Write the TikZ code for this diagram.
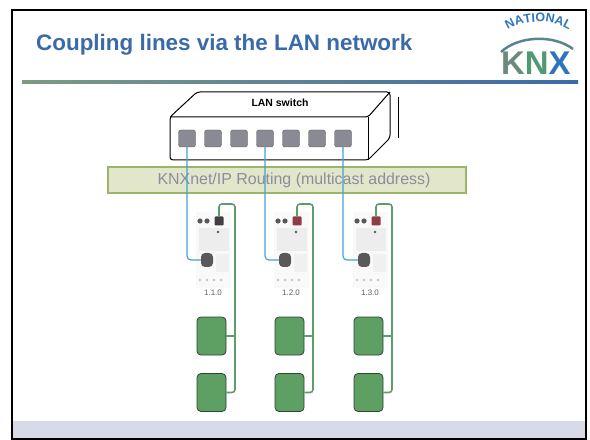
\documentclass[tikz,border=0pt]{standalone}
\usepackage{fontspec}
\setmainfont{Liberation Sans}
\usetikzlibrary{positioning,calc,decorations.text}

\definecolor{knxblue}{HTML}{3B6AA8}
\definecolor{knxlogoblue}{HTML}{2F74BE}
\definecolor{knxgreen}{HTML}{4F9A72}
\definecolor{knxgray}{HTML}{6E8A7C}
\definecolor{rulegreen}{HTML}{7C9A84}
\definecolor{portgray}{HTML}{8A8A95}
\definecolor{barfill}{HTML}{E2E7CC}
\definecolor{barline}{HTML}{9DB46C}
\definecolor{bartext}{HTML}{8C8C9C}
\definecolor{lanwire}{HTML}{3FA6CF}
\definecolor{buswire}{HTML}{5E9C6C}
\definecolor{tpfill}{HTML}{5E9F64}
\definecolor{tpline}{HTML}{2E4434}
\definecolor{ledred}{HTML}{8E3C46}
\definecolor{footer}{HTML}{D8DAE7}

\begin{document}
\begin{tikzpicture}
[x=1bp,y=-1bp,every node/.style={inner sep=0pt},
 port/.style={rectangle,rounded corners=2.5bp,draw=gray!70!black,fill=portgray,minimum size=17bp},
 tpdev/.style={rectangle,rounded corners=4bp,draw=tpline,thick,fill=tpfill,minimum width=29bp,minimum height=38bp},
 lanline/.style={lanwire,line width=1.2bp,rounded corners=4bp},
 busline/.style={buswire,line width=1.6bp,rounded corners=3bp}]
\useasboundingbox (0,0) rectangle (590,440);

% slide frame, footer and title
\fill[footer] (13,421) rectangle (585,438);
\draw[line width=1.8bp] (12,10) rectangle (586,439);
\node[anchor=base west,text=knxblue,font=\bfseries\fontsize{22.5}{26}\selectfont] (title) at (36,51) {Coupling lines via the LAN network};
\shade[left color=rulegreen,right color=knxblue] (22,80.5) rectangle (578,84);

% logo
\path[decorate,decoration={text along path,text align=center,
  text={|\bfseries\fontsize{12.5}{13}\selectfont\color{knxlogoblue}|NATIONAL}}]
  (500,36) .. controls (520,17) and (557,17) .. (577,36);
\draw[line width=2.5bp,knxgray!70!knxlogoblue] (501,52) .. controls (518,36) and (553,34) .. (573,49);
\node[anchor=base west,font=\bfseries\fontsize{33}{36}\selectfont] (logo) at (501,75)
  {\textcolor{knxgray}{K}\textcolor{knxgreen}{N}\textcolor{knxlogoblue}{X}};

% LAN switch
\filldraw[fill=white,line width=1bp,rounded corners=3bp] (170,117) -- (197,92) -- (390,92) -- (390,138) -- (368,160) -- (170,160) -- cycle;
\draw[line width=1bp,rounded corners=2bp] (170,117) -- (368,117) -- (390,92);
\draw[line width=1bp] (368,117) -- (368,160);
\draw[line width=0.8bp] (398,97) -- (398,138);
\node[font=\bfseries\fontsize{10.5}{12}\selectfont] (lansw) at (280,103) {LAN switch};
\foreach \i in {1,...,7}
  \node[port] (p\i) at ({187+26*(\i-1)},138.5) {};

% routing bar
\node[rectangle,draw=barline,line width=1.6bp,fill=barfill,minimum width=358bp,minimum height=26bp,
  text=bartext,font=\fontsize{16}{18}\selectfont] (routing) at (287,180) {\hspace*{14bp}KNXnet/IP Routing (multicast address)};

% IP routers with their lines
\foreach \i/\dx/\p/\led in {1/0/1/darkgray,2/78/4/ledred,3/157/7/ledred}{
  \begin{scope}[xshift=\dx bp]
    \fill[gray!5] (196,212) rectangle (231,288);
    \fill[gray!14] (199,228) rectangle (229,251);
    \fill[gray!12] (216,254) rectangle (229,272);
    \fill[gray!70!black] (200,221) circle (2.6) (207,221) circle (2.6) (218,232) circle (1.4);
    \node[rectangle,rounded corners=1bp,fill=\led,minimum size=9bp] (led\i) at (219,221) {};
    \node[rectangle,rounded corners=4bp,fill=gray!70!black,minimum width=12bp,minimum height=14bp] (rj\i) at (207,260) {};
    \foreach \k in {0,...,3} \fill[gray!45] (200+7*\k,280) circle (1.4);
    \node[text=gray!75!black,font=\fontsize{8}{9}\selectfont] (addr\i) at (213,293) {1.\i.0};
    \coordinate (bus\i) at (235,204);
    \node[tpdev] (tpa\i) at (211.5,336) {};
    \node[tpdev] (tpb\i) at (211.5,392.5) {};
  \end{scope}
  \draw[lanline] (p\p.south) |- (rj\i.west);
  \draw[busline] (led\i.north) |- (bus\i) |- (tpb\i.east);
  \draw[busline] (bus\i |- tpa\i.east) -- (tpa\i.east);
}
\end{tikzpicture}
\end{document}
